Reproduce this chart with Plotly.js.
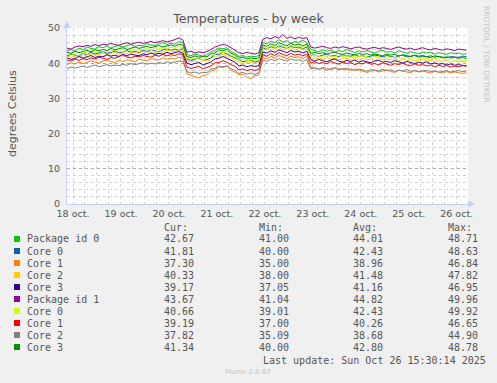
<!DOCTYPE html>
<html><head><meta charset="utf-8">
<script src="https://cdn.plot.ly/plotly-3.0.1.min.js"></script>
<style>html,body{margin:0;padding:0;background:#f0f0f0;}#chart{width:497px;height:383px;}</style>
</head><body><div id="chart"></div>
<script>
// ---- data ----
const seriesNames = ['Package id 0','Core 0','Core 1','Core 2','Core 3','Package id 1','Core 0','Core 1','Core 2','Core 3'];
const seriesColors = ['#00CC00','#0066B3','#FF8000','#FFCC00','#330099','#990099','#CCFF00','#FF0000','#808080','#008F00'];
const curValues = ['42.67','41.81','37.30','40.33','39.17','43.67','40.66','39.19','37.82','41.34'];
const minValues = ['41.00','40.00','35.00','38.00','37.05','41.04','39.01','37.00','35.09','40.00'];
const avgValues = ['44.01','42.43','38.96','41.48','41.16','44.82','42.43','40.26','38.68','42.80'];
const maxValues = ['48.71','48.63','46.84','47.82','46.95','49.96','49.92','46.65','44.90','48.78'];
const xTickLabels = ['18 oct.','19 oct.','20 oct.','21 oct.','22 oct.','23 oct.','24 oct.','25 oct.','26 oct.'];
const xTickDates = ['2025-10-18 12:00','2025-10-19 12:00','2025-10-20 12:00','2025-10-21 12:00','2025-10-22 12:00','2025-10-23 12:00','2025-10-24 12:00','2025-10-25 12:00','2025-10-26 12:00'];
const yTickValues = [0,10,20,30,40,50];
const firstSample = '2025-10-18 09:00';
const sampleHours = 2;

const pkg0 = [
 43.5,43.9,43.4,44.3,43.8,44.6,44.2,44.0,44.7,44.4,44.9,44.3,44.8,45.0,44.6,44.9,45.3,44.8,45.1,44.9,45.6,45.2,45.0,45.5,45.8,45.3,45.7,45.4,46.1,45.9,
 42.5,42.1,42.6,42.3,42.0,42.4,
 43.2,43.6,44.3,44.1,44.4,43.3,42.8,
 41.9,42.2,41.7,42.0,41.8,42.2,
 45.9,45.5,46.3,45.8,46.7,46.0,46.4,45.6,46.2,45.9,46.5,45.8,
 43.9,43.5,43.2,43.8,43.4,43.7,43.1,43.6,43.3,43.9,43.4,43.0,43.5,43.2,43.6,43.3,42.9,43.4,43.7,43.1,43.3,42.9,43.5,43.2,42.8,43.3,43.0,42.7,43.2,42.9,43.1,42.6,43.0,42.8,42.5,43.0,42.7,42.9,42.5,42.7];
const core0a = [
 42.1,42.5,42.3,42.0,42.8,42.4,43.1,42.6,42.9,43.3,42.8,43.0,43.5,42.9,43.2,43.6,43.1,43.4,43.0,43.7,43.3,43.9,43.5,43.2,43.8,44.1,43.6,44.0,43.7,44.2,
 41.2,40.8,41.1,41.4,40.9,41.0,
 41.5,42.5,42.5,43.1,42.6,42.0,41.6,
 40.9,40.4,40.7,40.8,40.3,40.6,
 44.4,44.0,44.7,44.3,44.9,44.5,44.2,44.8,44.4,44.6,44.1,44.6,
 42.1,42.4,41.9,42.3,42.6,42.0,42.2,41.8,42.4,42.1,42.0,42.5,41.9,42.2,41.7,42.0,42.3,42.1,41.8,42.2,42.0,41.6,42.1,42.3,41.8,41.9,42.2,41.7,42.0,41.8,41.6,42.1,41.9,41.7,41.5,41.9,41.8,41.6,42.0,41.8];
const core1a = [
 39.6,40.1,39.8,40.4,39.9,40.2,40.7,40.3,40.0,40.6,40.9,40.4,40.2,40.8,40.5,41.0,40.6,40.4,41.2,40.8,40.6,41.3,41.0,40.9,41.5,41.1,41.4,41.2,41.7,41.5,
 37.0,36.6,36.4,35.8,36.5,36.7,
 37.8,38.1,39.0,38.7,39.2,38.0,37.5,
 36.7,36.9,36.0,35.6,36.5,36.6,
 41.6,41.2,41.9,41.4,42.3,41.7,41.3,42.0,41.6,41.8,41.3,41.9,
 38.9,38.5,38.3,38.8,38.6,38.1,38.7,38.4,38.2,38.6,37.9,38.4,38.1,37.8,37.4,37.7,38.0,37.5,37.8,38.1,37.6,37.4,38.0,37.8,37.5,37.3,37.9,37.6,37.8,37.4,37.2,37.7,37.5,37.3,37.6,37.2,37.5,37.4,37.1,37.3];
const core2a = [
 42.0,41.7,41.9,42.4,42.0,42.3,42.7,42.2,42.6,42.9,42.4,42.8,43.1,42.6,42.9,42.7,43.2,43.0,42.8,43.4,43.1,43.3,42.9,43.5,43.2,43.7,43.4,43.3,43.9,43.5,
 40.7,40.4,40.6,40.2,40.8,40.5,
 41.0,42.0,42.1,42.6,42.0,41.9,40.8,
 40.3,39.9,40.2,40.3,39.8,40.1,
 43.6,44.3,43.8,44.1,44.5,43.9,44.2,44.4,43.7,44.2,44.0,43.9,
 41.6,41.3,41.5,41.1,41.6,41.2,41.4,41.0,41.5,41.3,41.1,41.4,40.9,41.3,41.0,41.2,40.8,41.3,41.0,41.2,40.9,41.1,40.7,41.2,40.8,41.0,40.6,40.9,41.0,40.6,40.8,40.5,40.7,40.4,40.8,40.3,40.6,40.4,40.5,40.3];
const core3a = [
 41.5,41.1,41.3,41.9,41.4,41.8,42.2,41.6,42.0,41.8,42.4,42.0,42.3,41.9,42.5,42.1,42.6,42.3,42.1,42.7,42.4,42.9,42.5,42.8,42.6,43.1,42.7,43.0,43.3,42.9,
 40.0,39.6,39.9,40.2,39.5,39.8,
 40.3,41.2,41.4,41.9,41.4,40.8,40.3,
 39.2,39.5,39.0,39.3,39.1,39.3,
 43.2,42.9,43.5,43.1,43.8,43.3,43.0,43.6,43.2,43.4,42.9,43.4,
 41.0,40.6,41.1,40.7,40.4,40.9,41.2,40.6,40.3,40.8,40.5,40.9,40.3,40.7,40.4,40.1,40.6,40.8,40.3,40.5,40.2,40.7,40.4,40.0,40.5,40.2,39.9,40.3,40.0,40.4,39.8,40.1,39.7,39.9,39.5,39.8,39.4,39.6,39.3,39.2];
const pkg1 = [
 44.3,44.0,44.6,44.9,44.7,45.1,44.8,45.3,45.0,45.4,45.2,45.6,45.3,45.1,45.5,45.8,45.4,45.7,46.0,45.6,45.9,46.2,45.8,46.1,46.4,46.0,46.3,46.7,47.2,46.6,
 43.1,43.4,42.9,43.2,43.0,43.3,
 43.9,44.6,45.0,45.3,45.1,44.4,43.6,
 43.0,42.7,43.1,42.8,42.6,43.0,
 46.8,47.3,46.9,47.6,47.1,48.2,47.0,47.5,46.9,47.4,47.0,47.3,
 44.6,44.3,44.5,44.8,44.4,44.2,44.6,44.3,44.7,44.5,44.1,44.4,44.6,44.2,44.0,44.3,44.5,44.1,44.4,44.2,43.9,44.3,44.6,44.2,44.0,44.3,43.8,44.1,44.4,44.0,43.8,44.2,44.0,43.7,44.1,43.9,43.6,44.0,43.8,43.7];
const core0b = [
 42.4,42.7,42.5,43.1,42.8,43.2,43.5,43.0,43.4,43.1,43.6,43.3,43.8,43.5,43.3,43.9,43.6,44.0,43.7,43.9,44.3,43.8,44.1,44.0,44.4,44.1,44.5,44.2,44.7,44.3,
 41.4,41.1,41.6,41.2,41.0,41.4,
 42.2,42.4,43.2,43.0,43.3,42.3,41.9,
 40.9,41.1,40.6,41.0,40.8,40.9,
 44.7,44.3,45.0,44.5,45.2,44.8,44.4,45.1,44.6,44.9,44.4,44.9,
 42.0,42.3,42.0,41.7,42.3,42.1,41.8,42.2,41.9,42.1,41.6,42.0,41.8,42.1,41.7,41.5,41.9,41.8,41.4,41.9,41.7,41.5,41.8,41.3,41.6,41.4,41.7,41.2,41.5,41.3,41.0,41.4,41.1,41.3,40.9,41.2,40.8,41.0,40.9,40.7];
const core1b = [
 40.9,40.6,41.2,40.8,41.3,41.0,41.5,41.2,41.7,41.3,41.1,41.6,41.4,41.9,42.4,41.7,41.5,42.0,41.8,42.2,41.9,41.7,42.3,42.0,42.5,42.1,42.4,42.2,42.7,42.4,
 38.9,38.5,38.8,39.1,38.4,38.7,
 39.2,40.1,40.2,40.7,40.3,39.6,39.1,
 38.1,38.4,37.9,38.2,38.0,38.2,
 42.4,42.0,42.7,42.2,43.0,42.5,42.1,42.8,42.3,42.6,42.1,42.6,
 40.0,40.4,39.9,40.2,39.8,40.5,40.1,39.7,40.3,39.9,40.2,39.6,40.0,39.8,40.3,39.7,39.9,39.5,40.1,39.7,39.4,39.9,39.6,40.0,39.5,39.3,39.8,39.4,39.6,39.2,39.5,39.0,39.4,39.1,39.3,38.9,39.2,39.0,39.3,39.2];
const core2b = [
 38.5,38.9,38.6,38.8,39.2,38.8,39.1,39.5,39.0,39.3,39.6,39.2,39.5,39.3,39.7,39.4,39.9,39.6,39.8,40.1,39.7,40.0,39.8,40.2,39.9,40.4,40.1,40.3,40.6,40.4,
 37.6,37.2,37.5,37.1,37.4,37.3,
 38.3,38.5,39.2,39.0,39.3,38.4,38.0,
 37.1,37.4,36.9,37.2,36.8,37.3,
 40.8,40.5,41.1,40.7,41.3,40.9,40.6,41.2,40.8,41.0,40.5,41.0,
 38.4,38.7,38.3,38.6,38.0,38.4,38.7,38.1,38.5,38.2,38.4,37.9,38.3,38.1,37.7,38.2,38.0,37.8,38.3,37.9,38.1,37.6,38.0,37.8,38.2,37.7,37.9,37.5,37.8,38.0,37.6,37.8,37.4,37.7,37.9,37.5,37.7,37.9,37.6,37.8];
const core3b = [
 43.1,42.8,43.4,43.0,43.3,43.7,43.2,43.8,43.5,43.9,43.6,44.2,43.8,44.1,44.4,43.9,44.3,44.6,44.2,44.5,44.8,44.4,44.7,45.0,44.6,44.9,45.2,44.8,45.4,45.1,
 41.9,41.6,42.1,41.7,41.9,41.8,
 42.7,42.9,43.8,43.5,43.9,42.8,42.4,
 41.4,41.7,41.2,41.5,41.3,41.5,
 45.2,44.8,45.5,45.0,45.8,45.3,44.9,45.6,45.1,45.4,44.9,45.4,
 42.8,43.1,42.7,43.0,42.6,42.9,43.2,42.7,42.5,42.9,42.6,42.3,42.8,42.5,42.7,42.3,42.6,42.4,42.1,42.6,42.3,42.5,42.0,42.4,42.2,41.9,42.3,42.0,42.2,41.8,42.1,41.7,41.9,41.6,41.8,41.5,41.7,41.4,41.6,41.3];

const seriesValues = [pkg0, core0a, core1a, core2a, core3a, pkg1, core0b, core1b, core2b, core3b];

// ---- layout helpers (pixel geometry of the plot frame) ----
const W = 497, H = 383;
const PL = 67, PR = 468, PT = 28, PB = 204;
const px = x => (x - PL) / (PR - PL);
const py = y => (PB - y) / (PB - PT);

const t0 = new Date(firstSample.replace(' ', 'T') + 'Z').getTime();
const traces = seriesValues.map((vals, k) => ({
  type: 'scatter', mode: 'lines',
  x: vals.map((_, i) => t0 + i * sampleHours * 3600e3),
  y: vals,
  name: seriesNames[k],
  line: {color: seriesColors[k], width: 1},
  hoverinfo: 'skip', showlegend: false
}));

const txtColor = '#555555';
const mono = 'DejaVu Sans Mono';
const annotations = [];
const shapes = [];
const ann = (x, y, text, opts) => annotations.push(Object.assign({
  xref: 'paper', yref: 'paper', x: px(x), y: py(y), text: text, showarrow: false,
  xanchor: 'left', yanchor: 'middle', borderpad: 0,
  font: {family: mono, size: 10, color: txtColor}
}, opts || {}));

const colX = [163, 257.5, 351.5, 446.5];
const headerY = 227, rowY0 = 239, rowStep = 12;
['Cur:', 'Min:', 'Avg:', 'Max:'].forEach((h, j) => ann(colX[j], headerY, h));
seriesNames.forEach((n, i) => {
  const y = rowY0 + i * rowStep;
  shapes.push({type: 'rect', xref: 'paper', yref: 'paper', x0: px(14), x1: px(20), y0: py(y + 3), y1: py(y - 3),
    fillcolor: seriesColors[i], line: {width: 0}});
  ann(26, y, n);
  [curValues, minValues, avgValues, maxValues].forEach((arr, j) => ann(colX[j], y, arr[i]));
});
ann(261.5, 360, 'Last update: Sun Oct 26 15:30:14 2025');
ann(247.5, 372, 'Munin 2.0.67', {xanchor: 'center', font: {family: 'DejaVu Sans', size: 7, color: '#c4c4c4'}});
ann(12, 114, 'degrees Celsius', {xanchor: 'center', textangle: -90, font: {family: 'DejaVu Sans', size: 11, color: txtColor}});
ann(487, 54, 'RRDTOOL / TOBI OETIKER', {xanchor: 'center', textangle: 90, font: {family: 'DejaVu Sans', size: 7.5, color: '#c4c4c4'}});

// axis arrows
const arrowCol = '#c8cff5';
shapes.push({type: 'path', xref: 'paper', yref: 'paper',
  path: `M ${px(63.5)} ${py(28)} L ${px(67)} ${py(21)} L ${px(70.5)} ${py(28)} Z`, fillcolor: arrowCol, line: {width: 0}});
shapes.push({type: 'path', xref: 'paper', yref: 'paper',
  path: `M ${px(468)} ${py(200.5)} L ${px(475)} ${py(204)} L ${px(468)} ${py(207.5)} Z`, fillcolor: arrowCol, line: {width: 0}});

const xRange = ['2025-10-18 09:00', '2025-10-26 17:40'];
const majorGrid = 'rgba(230,80,80,0.45)';
const minorGrid = 'rgba(175,175,175,0.55)';
const tickFont = {family: 'DejaVu Sans', size: 9.5, color: txtColor};

const layout = {
  width: W, height: H,
  margin: {l: PL, r: W - PR, t: PT, b: H - PB, pad: 0},
  paper_bgcolor: '#f0f0f0', plot_bgcolor: '#ffffff',
  title: {text: 'Temperatures - by week', font: {family: 'DejaVu Sans', size: 12.5, color: txtColor},
    xref: 'container', x: 0.5, xanchor: 'center', yref: 'container', y: 1 - 19 / H, yanchor: 'middle'},
  xaxis: {type: 'date', range: xRange, tickmode: 'array', tickvals: xTickDates, ticktext: xTickLabels,
    showgrid: false, ticks: '', tickfont: tickFont, zeroline: false,
    showline: true, linecolor: arrowCol, linewidth: 1, ticklabelstandoff: 1,
    minor: {tickmode: 'linear', tick0: '2025-10-18 00:00', dtick: 6 * 3600e3, showgrid: true,
      gridcolor: minorGrid, griddash: 'dot', gridwidth: 1, ticks: ''},
    fixedrange: true},
  xaxis2: {type: 'date', range: xRange, overlaying: 'x', anchor: 'y', tickmode: 'linear',
    tick0: '2025-10-18 00:00', dtick: 86400000, showticklabels: false, ticks: '',
    showgrid: true, gridcolor: majorGrid, griddash: 'dot', gridwidth: 1, zeroline: false, showline: false},
  yaxis: {range: [0, 50], tickmode: 'array', tickvals: yTickValues, ticks: '', tickfont: tickFont,
    showgrid: true, gridcolor: majorGrid, griddash: 'dot', gridwidth: 1, zeroline: false,
    showline: true, linecolor: arrowCol, linewidth: 1, ticklabelstandoff: 4,
    minor: {tickmode: 'linear', tick0: 0, dtick: 2, showgrid: true, gridcolor: minorGrid, griddash: 'dot', gridwidth: 1, ticks: ''},
    fixedrange: true},
  annotations: annotations,
  shapes: shapes,
  showlegend: false
};

Plotly.newPlot('chart', traces, layout, {displayModeBar: false, staticPlot: true});
</script>
</body></html>
